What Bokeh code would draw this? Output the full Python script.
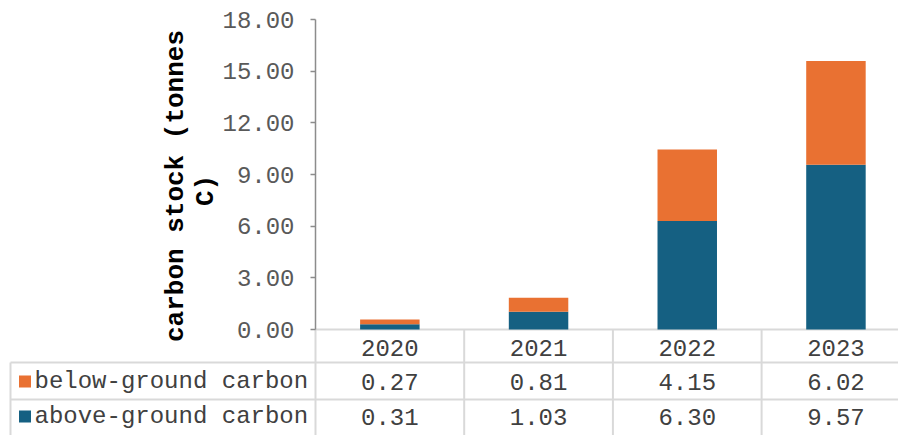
import math
from bokeh.plotting import figure
from bokeh.models import Range1d, FixedTicker, PrintfTickFormatter, ColumnDataSource, LinearAxis
from bokeh.core.properties import value
from bokeh.embed import file_html
from bokeh.resources import INLINE

years = ["2020", "2021", "2022", "2023"]
below_ground = [0.27, 0.81, 4.15, 6.02]
above_ground = [0.31, 1.03, 6.30, 9.57]
series_names = ["below-ground carbon", "above-ground carbon"]
y_ticks = [0, 3, 6, 9, 12, 15, 18]
y_title_lines = ["carbon stock (tonnes", "C)"]

BLUE = "#156082"
ORANGE = "#E97132"
GRID = "#d9d9d9"
TXT = "#404040"
FONT = "Liberation Mono"
FS = "24px"

W, H = 898, 435
AX_X = 315          # pixel column of the value axis
CAT_PX = 148.7      # px per category
Y0_PX, Y18_PX = 329, 19
PX_PER_UNIT = (Y0_PX - Y18_PX) / 18.0


def sx(px):
    return -0.5 + (px - AX_X) / CAT_PX


def sy(px):
    return (Y0_PX - px) / PX_PER_UNIT


xs = list(range(len(years)))
src = ColumnDataSource(dict(x=xs, above=above_ground, below=below_ground))

p = figure(width=W, height=H, x_range=Range1d(sx(0), sx(W)), y_range=Range1d(sy(H), sy(0)),
           output_backend="svg", toolbar_location=None, x_axis_location=None, y_axis_location=None,
           min_border=0)
p.outline_line_color = None
p.grid.visible = False

# table grid lines
x_left = sx(10)
x_right = sx(W + 20)
bounds = [i - 0.5 for i in range(len(years) + 1)]
p.segment(x0=bounds, x1=bounds, y0=[0] * len(bounds), y1=[sy(H + 20)] * len(bounds),
          line_color=GRID, line_width=2)
p.segment(x0=[x_left], x1=[x_left], y0=[sy(362)], y1=[sy(H + 20)], line_color=GRID, line_width=2)
p.segment(x0=[-0.5, x_left, x_left], x1=[x_right] * 3, y0=[0, sy(362), sy(399)], y1=[0, sy(362), sy(399)],
          line_color=GRID, line_width=2)

# stacked bars
p.vbar_stack(["above", "below"], x="x", width=0.4, color=[BLUE, ORANGE], line_color=None, source=src)

# value axis
ya = LinearAxis(fixed_location=-0.5)
ya.ticker = FixedTicker(ticks=y_ticks)
ya.formatter = PrintfTickFormatter(format="%.2f")
ya.bounds = (0, 18)
ya.axis_line_color = "#8c8c8c"
ya.axis_line_width = 1.5
ya.major_tick_line_color = "#8c8c8c"
ya.major_tick_line_width = 1.5
ya.major_tick_out = 5
ya.major_tick_in = 0
ya.minor_tick_line_color = None
ya.major_label_text_font = FONT
ya.major_label_text_font_size = FS
ya.major_label_text_color = "#595959"
ya.major_label_standoff = 16
p.add_layout(ya, "left")

# wrapped value-axis title
p.text(x=[sx(175), sx(205)], y=[sy(185.5), sy(190)], text=y_title_lines, angle=math.pi / 2,
       text_align="center", text_baseline="middle", text_font=value(FONT), text_font_style="bold",
       text_font_size="26px", text_color="#000000")

# table texts
p.text(x=xs, y=[sy(347)] * 4, text=years, text_align="center", text_baseline="middle",
       text_font=value(FONT), text_font_size=FS, text_color=TXT)
row_y = [sy(381), sy(416)]
for vals, ry in zip([below_ground, above_ground], row_y):
    p.text(x=xs, y=[ry] * 4, text=["%.2f" % v for v in vals], text_align="center", text_baseline="middle",
           text_font=value(FONT), text_font_size=FS, text_color=TXT)
p.scatter(x=[sx(24.5)] * 2, y=row_y, marker="square", size=12, color=[ORANGE, BLUE], line_color=None)
p.text(x=[sx(34)] * 2, y=row_y, text=series_names, text_align="left", text_baseline="middle",
       text_font=value(FONT), text_font_size=FS, text_color=TXT)

open("out.html", "w").write(file_html(p, INLINE))
